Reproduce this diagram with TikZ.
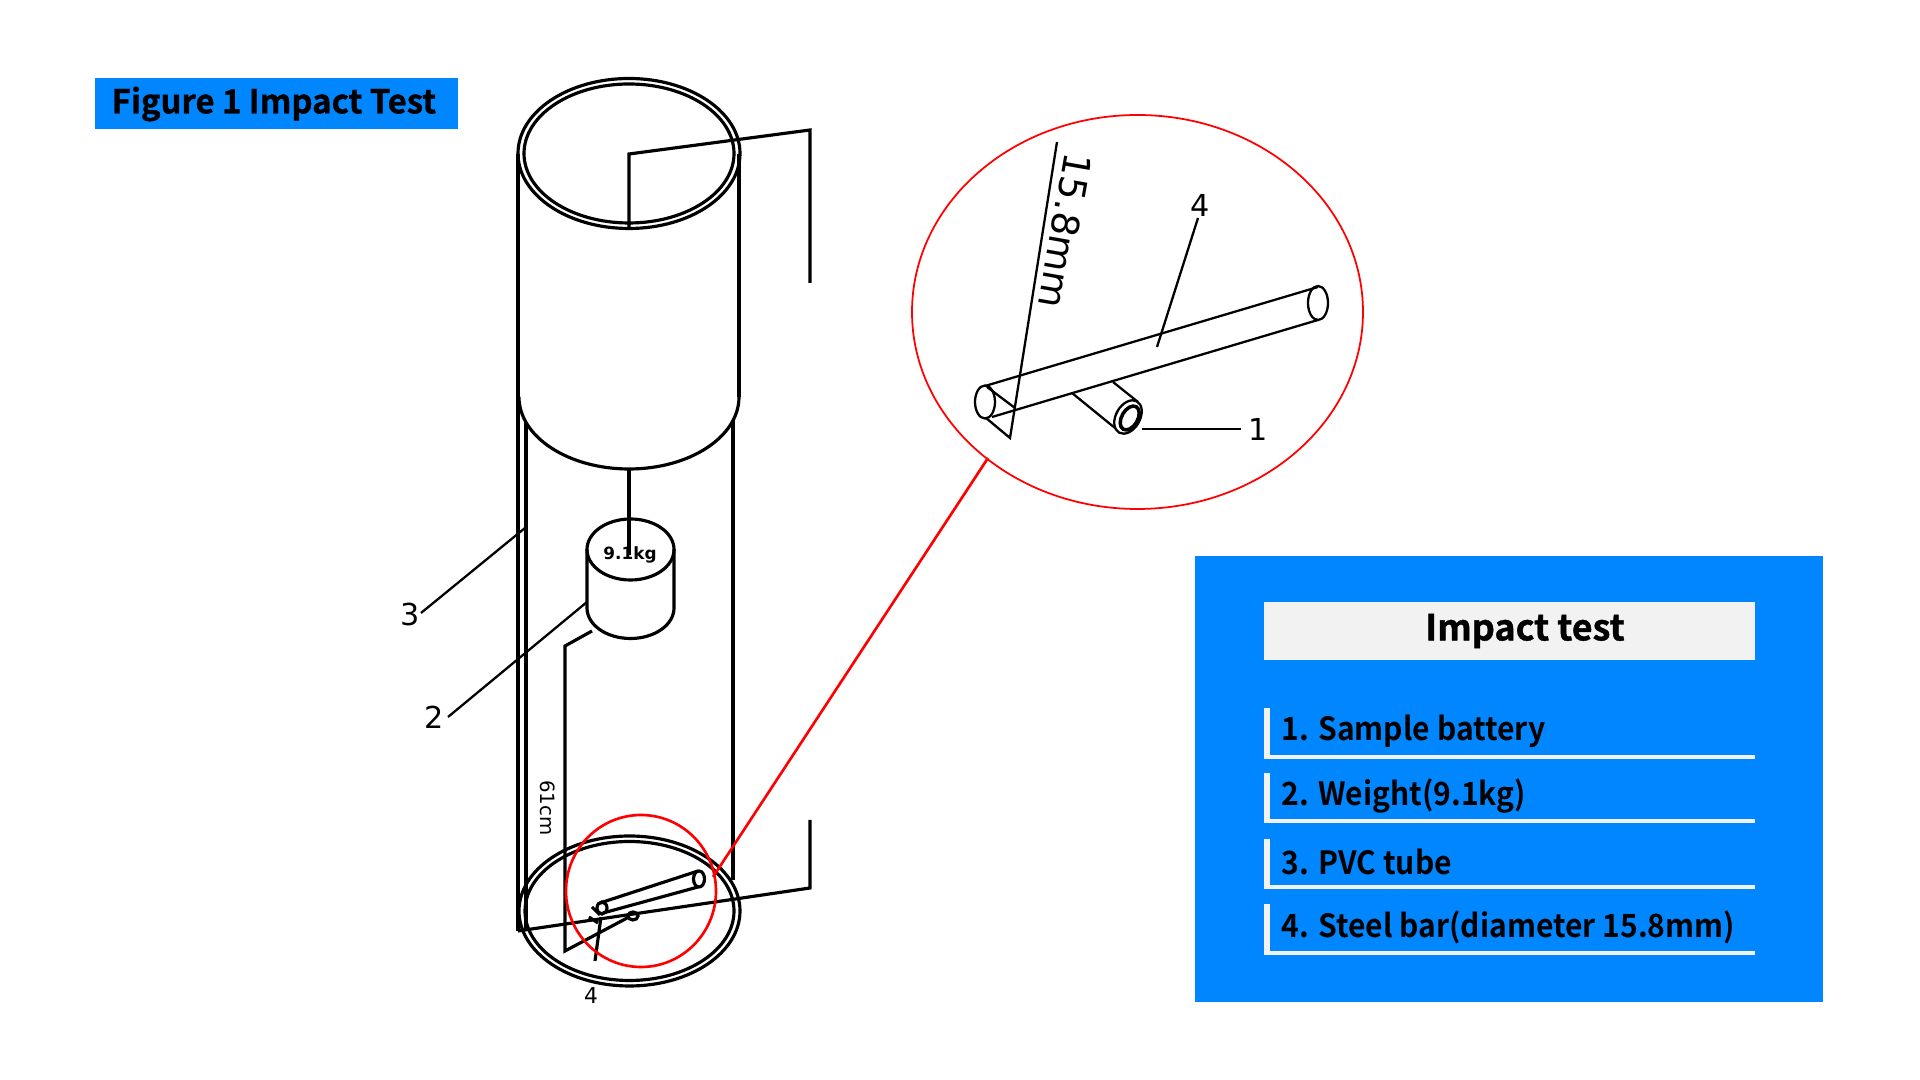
\documentclass[tikz,border=0pt]{standalone}
\usepackage{fontspec}
\newfontfamily\panelfont{Noto Sans CJK SC Bold}[FakeStretch=0.94]
\newfontfamily\headfont{Noto Sans CJK SC Bold}[FakeBold=1]
\newfontfamily\labelfont{DejaVu Sans}
\definecolor{panelblue}{HTML}{0087FF}
\definecolor{barwhite}{HTML}{F2F2F2}
\tikzstyle{wall}=[black,line width=0.9pt]
\tikzstyle{fine}=[black,line width=0.65pt]
\tikzstyle{zoomring}=[red,line width=0.75pt]
\tikzstyle{endpoint}=[coordinate]
\tikzstyle{callout}=[inner sep=0pt,font=\labelfont\fontsize{8.6}{10}\selectfont]
\tikzstyle{rowtext}=[anchor=west,inner sep=0pt,font=\panelfont\fontsize{9.1}{12}\selectfont]
\begin{document}
\begin{tikzpicture}[x=0.01cm,y=-0.01cm]
			\useasboundingbox (0,0) rectangle (1920,1080);
			%Named ends of the connectors
			\foreach \pos/\ptname in 	{{(629,229)/hookA},	{(629,154)/hookB},	{(810,130)/hookC},	{(810,283)/hookD},
									 {(629,470)/ropeA},	{(629,555)/ropeB},
									 {(518,154)/tubeA},	{(518,931)/tubeB},	{(810,888)/tubeC},	{(810,820)/tubeD},
									 {(526,422)/tubeE},	{(526,931)/tubeF},	{(733,420)/tubeG},	{(733,880)/tubeH},
									 {(739,154)/tubeI},	{(739,397)/tubeJ},	{(519,397)/tubeK},
									 {(592,631)/gaugeA},	{(565,646)/gaugeB},	{(565,951)/gaugeC},	{(629,917)/gaugeD},
									 {(421,613)/leadA},	{(525,528)/leadB},	{(448,717)/leadC},	{(587,602)/leadD},
									 {(713,877)/zoomA},	{(988,458)/zoomB},
									 {(1198,218)/leadE},	{(1157,347)/leadF},	{(1142,429)/leadG},	{(1241,429)/leadH},
									 {(600,903)/barA},	{(698,871)/barB},	{(603,913)/barC},	{(698,887)/barD},
									 {(595,961)/dimA},	{(601,917)/dimB},	{(592,907)/dimC},	{(600,915)/dimD},
									 {(589,917)/dimE},	{(598,923)/dimF},
									 {(985,386)/rodA},	{(1318,287)/rodB},	{(992,417)/rodC},	{(1318,320)/rodD},
									 {(987,387)/rimA},	{(1015,408)/rimB},	{(986,418)/rimC},	{(1010,438)/rimD},	{(1057,142)/rimE},
									 {(1072,393)/cellA},	{(1115,428)/cellB},	{(1113,382)/cellC},	{(1138,402)/cellD},
									 {(1128,417)/cellE}}
			\node[endpoint] (\ptname) at \pos {};
			%The blue title and the panel
			\fill[panelblue] (95,78) rectangle (458,129);
			\node[anchor=west,inner sep=0pt,font=\headfont\fontsize{9.35}{12}\selectfont] (headingtext) at (111,104) {Figure 1 Impact Test};
			\fill[panelblue] (1195,556) rectangle (1823,1002);
			\fill[barwhite] (1264,602) rectangle (1755,660);
			\node[inner sep=0pt,font=\headfont\fontsize{10.2}{12}\selectfont] (paneltitletext) at (1525,631) {Impact test};
			\foreach \rowtop/\rowbot/\rowname/\words in 	{{708/759/rowA/1. Sample battery},	{773/823/rowB/2. Weight(9.1kg)},
									 {839/889/rowC/3. PVC tube},	{904/955/rowD/4. Steel bar(diameter 15.8mm)}}
			{
				\fill[barwhite] (1264,\rowtop) rectangle (1270,\rowbot);
				\fill[barwhite] (1264,\rowbot-4) rectangle (1755,\rowbot);
				\node[rowtext] (\rowname) at (1281,\rowtop/2+\rowbot/2-2) {\words};
			}
			%The tube with its two rims
			\draw[wall] (629,153.5) ellipse [x radius=111,y radius=75];
			\draw[wall] (629,153.5) ellipse [x radius=105,y radius=69.5];
			\draw[wall] (tubeA) -- (tubeB);
			\draw[wall] (tubeI) -- (tubeJ);
			\draw[wall] (tubeK) arc [start angle=180,end angle=0,x radius=110,y radius=72];
			\draw[wall] (tubeE) -- (tubeF);
			\draw[wall] (tubeG) -- (tubeH);
			\draw[wall] (629.5,911) ellipse [x radius=110.5,y radius=75];
			\draw[wall] (629.5,911) ellipse [x radius=104.5,y radius=69.5];
			\draw[wall] (hookA) -- (hookB) -- (hookC) -- (hookD);
			\draw[wall] (tubeB) -- (tubeC) -- (tubeD);
			\draw[wall] (ropeA) -- (ropeB);
			%The weight
			\draw[wall] (630.5,549.5) ellipse [x radius=43.5,y radius=30.5];
			\draw[wall] (587,549.5) -- (587,608) arc [start angle=180,end angle=0,x radius=43.5,y radius=30.5] -- (674,549.5);
			\node[inner sep=0pt,font=\labelfont\bfseries\fontsize{4.8}{6}\selectfont] (weightmark) at (630,555) {9.1kg};
			%The height gauge
			\draw[wall] (gaugeA) -- (gaugeB) -- (gaugeC) -- (gaugeD);
			\draw[wall] (633,916) ellipse [x radius=5,y radius=4];
			\node[rotate=-90,inner sep=0pt,font=\labelfont\fontsize{5.6}{7}\selectfont] (height) at (548,808) {61cm};
			%The small bar
			\draw[wall] (602,908) ellipse [x radius=5,y radius=6];
			\draw[wall] (699,879) ellipse [x radius=5.5,y radius=8];
			\draw[wall] (barA) -- (barB);
			\draw[wall] (barC) -- (barD);
			\draw[wall] (dimA) -- (dimB);
			\draw[wall] (dimC) -- (dimD);
			\draw[wall] (dimE) -- (dimF);
			\node[inner sep=0pt,font=\labelfont\fontsize{6.2}{8}\selectfont] (smallfour) at (591,996) {4};
			%The callouts
			\draw[fine] (leadA) -- (leadB);
			\draw[fine] (leadC) -- (leadD);
			\node[callout] (labelthree) at (410,615) {3};
			\node[callout] (labeltwo) at (434,717) {2};
			%The red rings
			\draw[zoomring] (641,891) ellipse [x radius=75,y radius=76];
			\draw[zoomring] (zoomA) -- (zoomB);
			\draw[red,line width=0.5pt] (1137.5,312) ellipse [x radius=225.5,y radius=197];
			%The enlarged bar
			\draw[fine] (985,402) ellipse [x radius=10,y radius=16.5];
			\draw[fine] (1318,303) ellipse [x radius=10,y radius=17];
			\draw[fine] (rodA) -- (rodB);
			\draw[fine] (rodC) -- (rodD);
			\draw[fine] (rimA) -- (rimB);
			\draw[fine] (rimC) -- (rimD) -- (rimE);
			\node[rotate=-100,inner sep=0pt,font=\labelfont\fontsize{10.7}{12}\selectfont] (diameter) at (1065,231) {15.8mm};
			\draw[fine] (leadE) -- (leadF);
			\node[callout] (labelfour) at (1200,205) {4};
			%The enlarged battery
			\draw[fine] (cellA) -- (cellB);
			\draw[fine] (cellC) -- (cellD);
			\draw[fine,rotate around={-30:(cellE)}] (cellE) ellipse [x radius=12,y radius=18];
			\draw[wall,line width=1pt,rotate around={-30:(cellE)}] (1130,417) ellipse [x radius=8,y radius=13];
			\draw[fine] (leadG) -- (leadH);
			\node[callout] (labelone) at (1258,429) {1};
		\end{tikzpicture}
\end{document}
